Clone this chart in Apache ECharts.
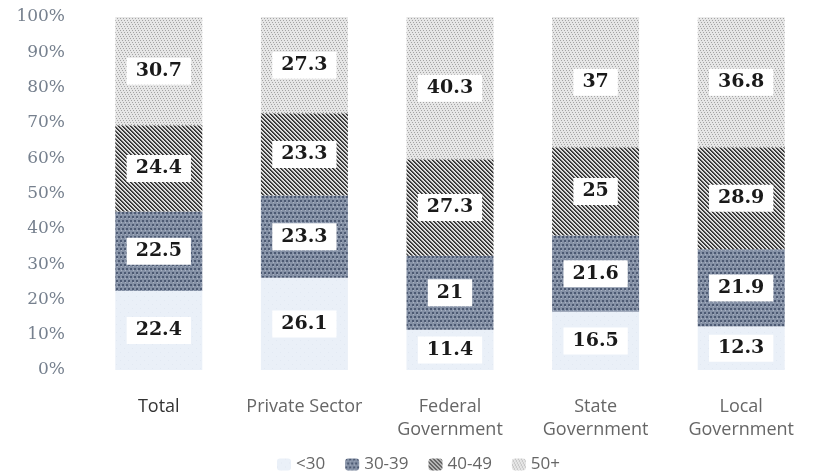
<!DOCTYPE html>
<html><head><meta charset="utf-8">
<script src="https://cdn.jsdelivr.net/npm/echarts@6/dist/echarts.min.js"></script>
<style>html,body{margin:0;padding:0;background:#fff}#c{width:814px;height:472px}</style>
</head><body><div id="c"></div>
<script>
const categories = ['Total', 'Private Sector', 'Federal\nGovernment', 'State\nGovernment', 'Local\nGovernment'];
const seriesNames = ['<30', '30-39', '40-49', '50+'];
const under30 = [22.4, 26.1, 11.4, 16.5, 12.3];
const age30to39 = [22.5, 23.3, 21, 21.6, 21.9];
const age40to49 = [24.4, 23.3, 27.3, 25, 28.9];
const age50plus = [30.7, 27.3, 40.3, 37, 36.8];
const yTicks = [0, 10, 20, 30, 40, 50, 60, 70, 80, 90, 100];

function makePattern(kind) {
  const c = document.createElement('canvas');
  const s = kind === 'grain' ? 6 : 8; c.width = s; c.height = s;
  const g = c.getContext('2d');
  if (kind === 'light') {
    g.fillStyle = '#eaf0f8'; g.fillRect(0,0,s,s);
    g.fillStyle = '#e2e9f3'; g.fillRect(0,0,1,1); g.fillRect(4,4,1,1);
  } else if (kind === 'dots') {
    g.fillStyle = '#8591a6'; g.fillRect(0,0,s,s);
    g.fillStyle = '#4d5a73';
    for (let y=0;y<s;y+=4) for (let x=0;x<s;x+=4) { g.fillRect(x+((y/4)%2)*2,y,2,2); }
    g.fillStyle = '#a9b2c2';
    for (let y=2;y<s;y+=4) for (let x=0;x<s;x+=4) { g.fillRect(x+1,y,1,1); }
  } else if (kind === 'stripes') {
    for (let y=0;y<s;y++) for (let x=0;x<s;x++) {
      const m = ((x - y) % 4 + 4) % 4;
      g.fillStyle = m === 0 ? '#2e2e2e' : (m === 1 ? '#555555' : (m === 2 ? '#d0d0d0' : '#e6e6e6'));
      g.fillRect(x, y, 1, 1);
    }
  } else {
    g.fillStyle = '#e6e6e6'; g.fillRect(0,0,s,s);
    g.fillStyle = '#a4a4a4';
    for (let y=0;y<s;y+=2) for (let x=0;x<s;x+=3) { g.fillRect(x+((y/2)%3),y,1,1); }
  }
  return c;
}
const patterns = [makePattern('light'), makePattern('dots'), makePattern('stripes'), makePattern('grain')];
const allData = [under30, age30to39, age40to49, age50plus];

const chart = echarts.init(document.getElementById('c'));
chart.setOption({
  animation: false,
  grid: { left: 86, width: 746, top: 17, bottom: 102 },
  legend: {
    data: seriesNames, top: 451, left: 272,
    itemWidth: 14, itemHeight: 12, itemGap: 20,
    textStyle: { fontFamily: 'Open Sans', fontSize: 17, color: '#666' }
  },
  xAxis: {
    type: 'category', data: categories,
    axisLine: { show: false }, axisTick: { show: false },
    axisLabel: {
      interval: 0, hideOverlap: false,
      margin: 25, fontFamily: 'Open Sans', fontSize: 18, lineHeight: 23,
      color: (v, i) => i === 0 ? '#333' : '#666'
    }
  },
  yAxis: {
    type: 'value', min: 0, max: 100, interval: 10,
    axisLine: { show: false }, axisTick: { show: false }, splitLine: { show: false },
    axisLabel: { formatter: v => v + '%', margin: 21, fontFamily: 'DejaVu Serif', fontSize: 17, color: '#76808e' }
  },
  series: allData.map((d, i) => ({
    name: seriesNames[i], type: 'bar', stack: 'all', barWidth: 87, data: d,
    itemStyle: { color: { image: patterns[i], repeat: 'repeat' } },
    label: {
      show: true, position: 'inside', formatter: p => String(p.value),
      fontFamily: 'DejaVu Serif', fontWeight: 'bold', fontSize: 19, color: '#1a1a1a',
      backgroundColor: '#fff', padding: [4, 9, 4, 9]
    }
  }))
});
</script></body></html>
